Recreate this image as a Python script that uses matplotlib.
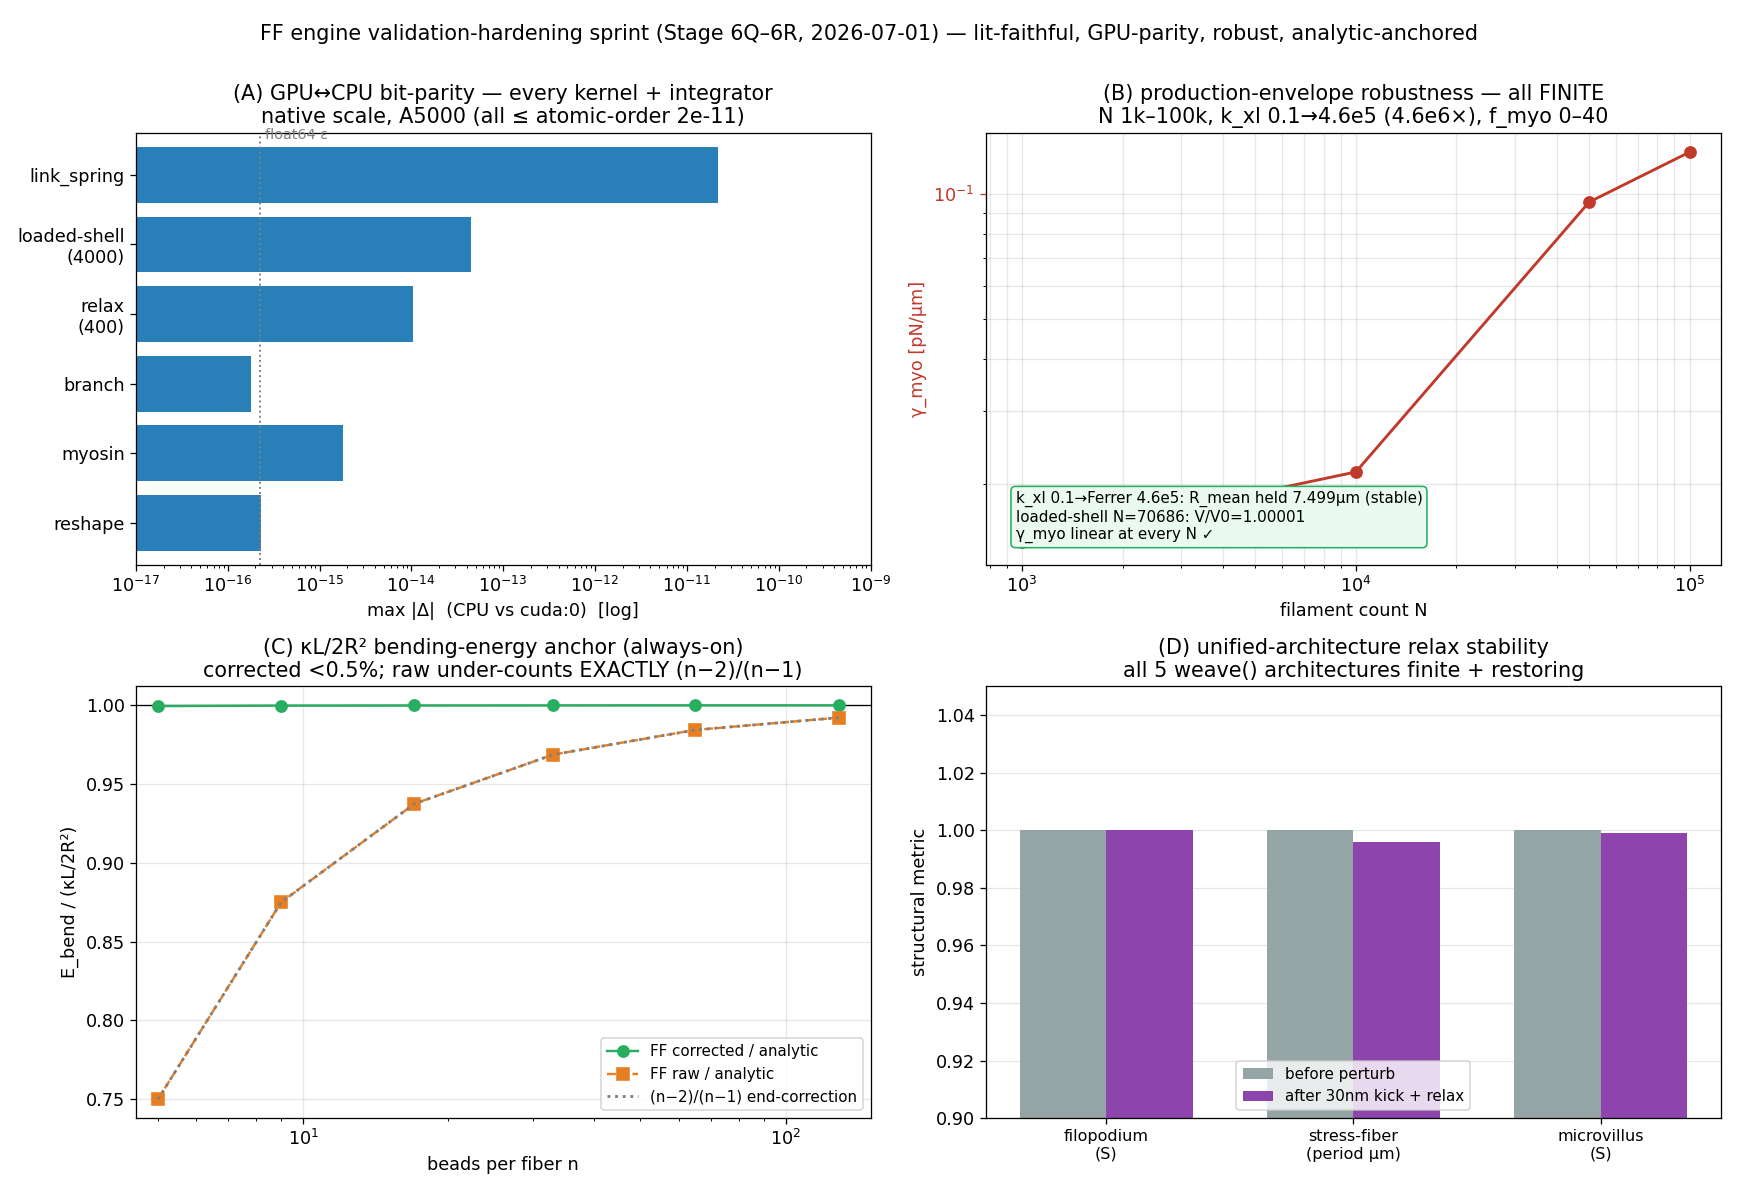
# FF engine validation-hardening sprint summary figure
import numpy as np
import matplotlib.pyplot as plt

# (A) GPU/CPU parity
kernels = ['link_spring', 'loaded-shell\n(4000)', 'relax\n(400)', 'branch', 'myosin', 'reshape']
max_diff = [2.2e-11, 4.5e-14, 1.05e-14, 1.7e-16, 1.8e-15, 2.2e-16]
eps = 2.22e-16

# (B) robustness
N = [1000, 10000, 50000, 100000]
gamma = [0.0145, 0.0214, 0.0955, 0.126]

# (C) bending anchor
n = np.array([5, 9, 17, 33, 65, 129])
corrected = [0.9995, 0.9998, 0.9999, 0.99995, 1.0, 1.0]
raw = [0.75, 0.875, 0.9375, 0.96875, 0.9844, 0.9922]
endcorr = (n - 2) / (n - 1)

# (D) architectures
archs = ['filopodium\n(S)', 'stress-fiber\n(period µm)', 'microvillus\n(S)']
before = [1.0, 1.0, 1.0]
after = [1.0, 0.996, 0.999]

fig, axs = plt.subplots(2, 2, figsize=(1738 / 115, 1191 / 115), dpi=115)
fig.suptitle('FF engine validation-hardening sprint (Stage 6Q–6R, 2026-07-01) — lit-faithful, GPU-parity, robust, analytic-anchored', fontsize=13)

ax = axs[0, 0]
y = np.arange(len(kernels))
ax.barh(y, max_diff, color='#2980b9', left=1e-17)
ax.set_xscale('log')
ax.set_xlim(1e-17, 1e-9)
ax.set_yticks(y)
ax.set_yticklabels(kernels, fontsize=11)
ax.axvline(eps, color='gray', ls=':', lw=1.2)
ax.text(eps * 1.15, -0.47, 'float64 ε', color='gray', fontsize=9, va='bottom')
ax.set_xlabel('max |Δ|  (CPU vs cuda:0)  [log]', fontsize=11)
ax.set_title('(A) GPU↔CPU bit-parity — every kernel + integrator\nnative scale, A5000 (all ≤ atomic-order 2e-11)', fontsize=13)
ax.set_ylim(5.6, -0.6)
ax.tick_params(labelsize=11)

ax = axs[0, 1]
ax.plot(N, gamma, 'o-', color='#c0392b', lw=1.8, ms=7)
ax.set_xscale('log')
ax.set_yscale('log')
ax.set_ylim(0.0128, 0.14)
ax.set_xlim(780, 124000)
ax.grid(True, which='both', alpha=0.3)
ax.set_ylabel('γ_myo [pN/µm]', color='#c0392b', fontsize=11)
ax.tick_params(axis='y', colors='#c0392b', labelsize=11)
ax.tick_params(axis='x', labelsize=11)
ax.set_xlabel('filament count N', fontsize=11)
ax.set_title('(B) production-envelope robustness — all FINITE\nN 1k–100k, k_xl 0.1→4.6e5 (4.6e6×), f_myo 0–40', fontsize=13)
ax.text(0.04, 0.05, 'k_xl 0.1→Ferrer 4.6e5: R_mean held 7.499µm (stable)\nloaded-shell N=70686: V/V0=1.00001\nγ_myo linear at every N ✓',
        transform=ax.transAxes, fontsize=9.5, va='bottom',
        bbox=dict(boxstyle='round,pad=0.3', fc='#eafaf1', ec='#27ae60'))

ax = axs[1, 0]
ax.axhline(1.0, color='black', lw=0.8)
ax.plot(n, corrected, 'o-', color='#27ae60', ms=7, lw=1.5, label='FF corrected / analytic')
ax.plot(n, raw, 's--', color='#e67e22', ms=7, lw=1.5, label='FF raw / analytic')
ax.plot(n, endcorr, ':', color='gray', lw=1.8, label='(n−2)/(n−1) end-correction')
ax.set_xscale('log')
ax.set_xlim(4.5, 150)
ax.set_ylim(0.738, 1.012)
ax.grid(True, which='major', alpha=0.3)
ax.set_xlabel('beads per fiber n', fontsize=11)
ax.set_ylabel('E_bend / (κL/2R²)', fontsize=11)
ax.tick_params(labelsize=11)
ax.legend(loc='lower right', fontsize=9.5)
ax.set_title('(C) κL/2R² bending-energy anchor (always-on)\ncorrected <0.5%; raw under-counts EXACTLY (n−2)/(n−1)', fontsize=13)

ax = axs[1, 1]
x = np.arange(len(archs))
w = 0.35
ax.bar(x - w / 2, before, w, color='#95a5a6', label='before perturb')
ax.bar(x + w / 2, after, w, color='#8e44ad', label='after 30nm kick + relax')
ax.set_xticks(x)
ax.set_xticklabels(archs, fontsize=10)
ax.set_ylim(0.9, 1.05)
ax.grid(True, axis='y', alpha=0.3)
ax.set_axisbelow(True)
ax.set_ylabel('structural metric', fontsize=11)
ax.tick_params(axis='y', labelsize=11)
ax.legend(loc='lower center', fontsize=9.5)
ax.set_title('(D) unified-architecture relax stability\nall 5 weave() architectures finite + restoring', fontsize=13)

fig.tight_layout(rect=[0, 0, 1, 0.975])
fig.savefig('out.png')
